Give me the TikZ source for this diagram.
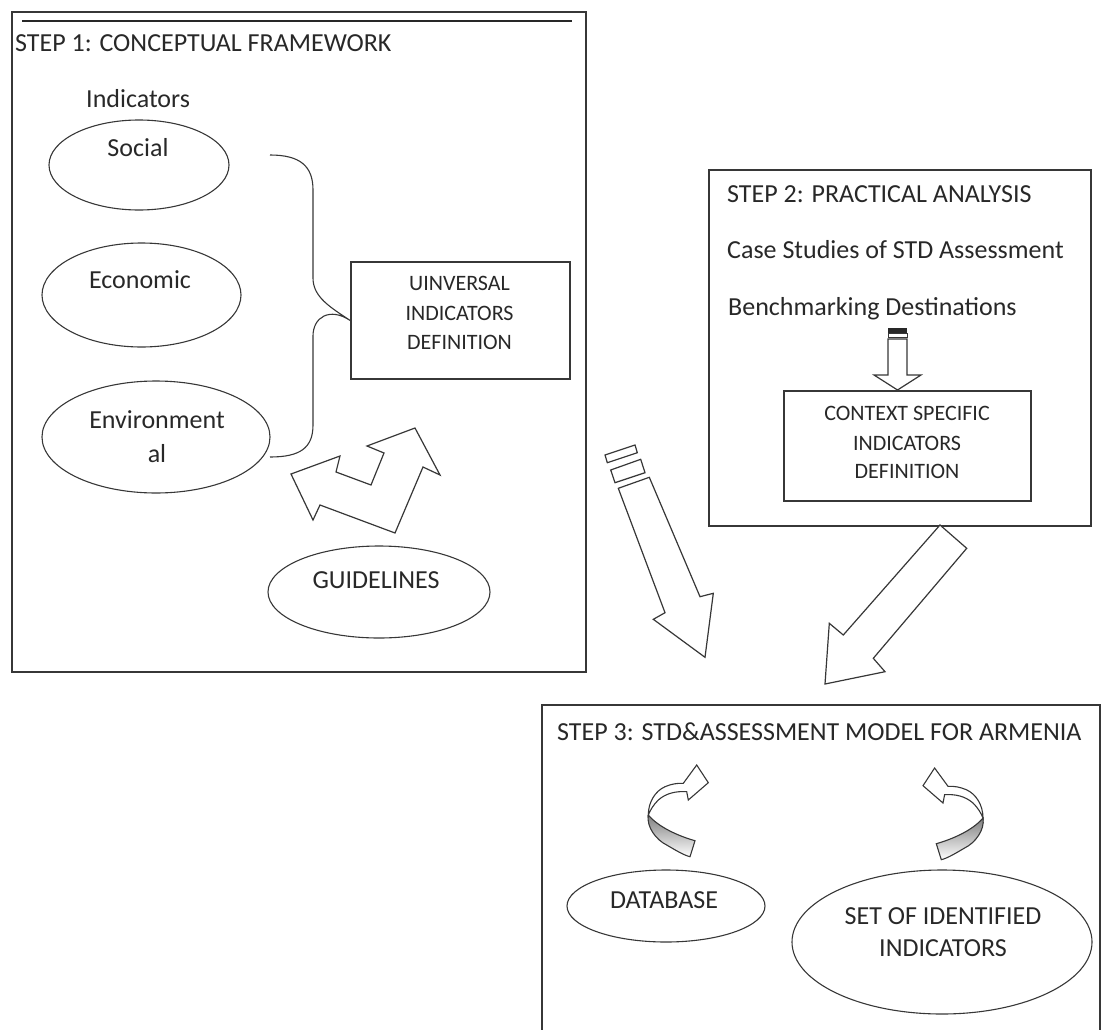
\documentclass[tikz,border=0pt]{standalone}
\usepackage{fontspec}
\setmainfont{Carlito}
\usetikzlibrary{shapes.geometric}
\definecolor{ink}{RGB}{40,40,40}
\definecolor{edge}{RGB}{55,55,55}
\definecolor{shade}{RGB}{200,200,200}
\begin{document}
\begin{tikzpicture}[x=1pt,y=-1pt,
  frame/.style={draw=edge,line width=1.8pt,rectangle,inner sep=0pt,anchor=north west},
  oval/.style={draw=edge,line width=1.1pt,ellipse,inner sep=0pt},
  thin/.style={draw=edge,line width=1.1pt},
  txt/.style={inner sep=0pt,text=ink,font=\fontsize{26}{31}\selectfont},
  small/.style={inner sep=0pt,text=ink,font=\fontsize{22}{26}\selectfont},
  blockarrow/.style={draw=edge,line width=1.2pt,fill=white,line join=miter},
  curvarrow/.pic={
    \fill[shade,draw=edge,line width=1.1pt] (0,0) .. controls (-2,12) and (8,25) .. (18.4,30)
      .. controls (27,35) and (35,40) .. (41.7,41.7) -- (46.7,25.7)
      .. controls (30,21) and (10,12) .. (0,0) -- cycle;
    \filldraw[fill=white,draw=edge,line width=1.1pt] (0,0) .. controls (0,-13) and (7,-24) .. (16.7,-28.3)
      .. controls (23,-31) and (29,-32) .. (35,-31.7) -- (48.4,-50) -- (60,-32.3) -- (40,-15)
      -- (38.4,-23.3) .. controls (28,-24) and (18,-22) .. (10,-15)
      .. controls (5,-10) and (2,-5) .. (0,0) -- cycle;
  }
]
\useasboundingbox (0,0) rectangle (1105,1030);

% ---------- STEP 1 ----------
\node[frame,minimum width=574pt,minimum height=660pt] (step1) at (11,11) {};
\coordinate (ruleA) at (22,21);
\coordinate (ruleB) at (572,21);
\draw[draw=ink,line width=1.8pt] (ruleA) -- (ruleB);
\node[txt,anchor=base west] (t1) at (15,52) {STEP 1: CONCEPTUAL FRAMEWORK};
\node[txt,anchor=base west] (ind) at (86,108) {Indicators};

\node[oval,minimum width=180pt,minimum height=90pt] (social) at (139,165) {};
\node[txt,anchor=base] (socialt) at (138,156) {Social};
\node[oval,minimum width=199pt,minimum height=104pt] (econ) at (141.5,295) {};
\node[txt,anchor=base] (econt) at (140,288) {Economic};
\node[oval,minimum width=228pt,minimum height=112pt] (env) at (156,437) {};
\node[txt,anchor=base] (envt1) at (157,428) {Environment};
\node[txt,anchor=base] (envt2) at (157,462) {al};

\node[frame,minimum width=219pt,minimum height=117pt] (univ) at (350,261) {};
\node[small,anchor=base] (u1) at (459.5,290) {UINVERSAL};
\node[small,anchor=base] (u2) at (459.5,320) {INDICATORS};
\node[small,anchor=base] (u3) at (459.5,349) {DEFINITION};

% brace
\coordinate (brTop) at (270,155);
\coordinate (brBot) at (270,457);
\draw[thin] (brTop) .. controls (300,155) and (313,166) .. (313,190) -- (313,278)
  .. controls (313,297) and (330,307) .. (univ.west)
  .. controls (330,307) and (313,317) .. (313,336) -- (313,425)
  .. controls (313,448) and (300,457) .. (brBot);

% bent double arrow
\draw[blockarrow] (291,474) -- (340,456) -- (336,472) -- (371,485) -- (384,453) -- (367,446)
  -- (415,428) -- (440,475) -- (423,467) -- (395,533) -- (320,505) -- (313,520) -- cycle;

\node[oval,minimum width=222pt,minimum height=92pt] (guide) at (379,592) {};
\node[txt,anchor=base] (guidet) at (376,588) {GUIDELINES};

% pencil-like arrow
\draw[blockarrow] (605,455) -- (635,445) -- (637.3,452.7) -- (607.3,462.7) -- cycle;
\draw[blockarrow] (610.7,470) -- (640.7,459.3) -- (645,472.7) -- (615,482.7) -- cycle;
\draw[blockarrow] (618.3,488.3) -- (649.3,477.3) -- (700,596.7) -- (713.3,593.3) -- (705,657.3)
  -- (653.3,619.3) -- (665,612.7) -- cycle;

% ---------- STEP 2 ----------
\node[frame,minimum width=382pt,minimum height=356pt] (step2) at (708,169) {};
\node[txt,anchor=base west] (t2) at (727,202) {STEP 2: PRACTICAL ANALYSIS};
\node[txt,anchor=base west] (cs) at (727,258) {Case Studies of STD Assessment};
\node[txt,anchor=base west] (bm) at (728,315) {Benchmarking Destinations};

\node[frame,minimum width=247pt,minimum height=110pt] (ctx) at (783,390) {};
\node[small,anchor=base] (c1) at (907,420) {CONTEXT SPECIFIC};
\node[small,anchor=base] (c2) at (907,450) {INDICATORS};
\node[small,anchor=base] (c3) at (907,478) {DEFINITION};

% small down arrow
\fill[ink] (888,328) rectangle (907,333);
\draw[blockarrow,line width=1pt] (888,333.5) rectangle (907,337);
\draw[blockarrow] (888,339) -- (888,375) -- (874,375) -- (897.5,390) -- (921,375) -- (907,375) -- (907,339) -- cycle;

% big arrow to step 3
\draw[blockarrow] (940,525) -- (966.7,548.3) -- (873.3,658.3) -- (885,671.7) -- (825,684)
  -- (829.3,623.3) -- (843.3,635) -- cycle;

% ---------- STEP 3 ----------
\coordinate (s3a) at (542,1032);
\coordinate (s3b) at (542,705);
\coordinate (s3c) at (1100,705);
\coordinate (s3d) at (1100,1032);
\draw[draw=edge,line width=1.8pt] (s3a) -- (s3b) -- (s3c) -- (s3d);
\node[txt,anchor=base west] (t3) at (557,740) {STEP 3: STD\&ASSESSMENT MODEL FOR ARMENIA};

\pic at (648.3,815) {curvarrow};
\pic[xscale=-1] at (983,818) {curvarrow};

\node[oval,minimum width=198pt,minimum height=72pt] (db) at (666,906) {};
\node[txt,anchor=base] (dbt) at (664,908) {DATABASE};
\node[oval,minimum width=300pt,minimum height=144pt] (set) at (942,942) {};
\node[txt,anchor=base] (set1) at (943,924) {SET OF IDENTIFIED};
\node[txt,anchor=base] (set2) at (943,956) {INDICATORS};
\end{tikzpicture}
\end{document}
